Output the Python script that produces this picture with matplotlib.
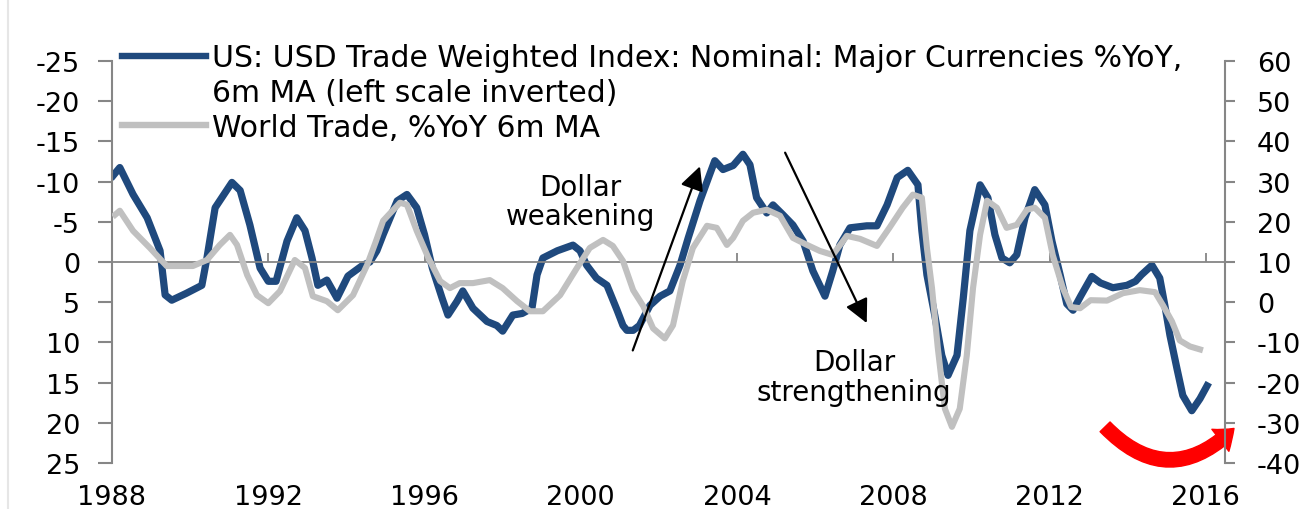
import matplotlib
matplotlib.use("Agg")
import matplotlib.pyplot as plt
from matplotlib.lines import Line2D
from matplotlib.patches import FancyArrowPatch

# USD trade weighted index, %YoY 6m MA (left axis, inverted)
usd_years = [1988.03, 1988.2, 1988.54, 1988.9, 1989.23, 1989.36, 1989.53, 1989.9,
             1990.3, 1990.43, 1990.64, 1991.07, 1991.28, 1991.53, 1991.79, 1992.0,
             1992.2, 1992.48, 1992.73, 1992.94, 1993.12, 1993.27, 1993.5, 1993.76,
             1994.04, 1994.42, 1994.6, 1994.78, 1994.94, 1995.3, 1995.55, 1995.8,
             1996.0, 1996.2, 1996.45, 1996.6, 1996.83, 1996.98, 1997.24, 1997.6,
             1997.85, 1998.0, 1998.26, 1998.5, 1998.75, 1998.88, 1999.03, 1999.4,
             1999.8, 1999.98, 2000.15, 2000.4, 2000.67, 2000.93, 2001.08, 2001.18,
             2001.34, 2001.5, 2001.77, 2002.03, 2002.28, 2002.54, 2002.75, 2003.05,
             2003.3, 2003.43, 2003.64, 2003.9, 2004.15, 2004.33, 2004.5, 2004.76,
             2004.92, 2005.17, 2005.43, 2005.69, 2005.94, 2006.25, 2006.45, 2006.63,
             2006.89, 2007.32, 2007.58, 2007.84, 2008.1, 2008.37, 2008.63, 2008.73,
             2008.86, 2009.06, 2009.24, 2009.4, 2009.63, 2009.79, 2009.96, 2010.22,
             2010.42, 2010.6, 2010.78, 2010.98, 2011.16, 2011.37, 2011.62, 2011.88,
             2012.06, 2012.27, 2012.44, 2012.6, 2012.8, 2013.08, 2013.3, 2013.62,
             2013.98, 2014.2, 2014.35, 2014.62, 2014.82, 2014.95, 2015.08, 2015.26,
             2015.41, 2015.64, 2015.85, 2016.03]
usd_vals = [-10.75, -11.75, -8.4, -5.5, -1.4, 4.1, 4.75, 3.9,
            2.9, -0.5, -6.75, -9.9, -8.9, -4.6, 0.75, 2.4,
            2.4, -2.6, -5.5, -3.9, -0.5, 2.9, 2.25, 4.5,
            1.75, 0.4, 0.0, -1.4, -3.4, -7.6, -8.4, -6.75,
            -3.4, 0.75, 4.5, 6.6, 4.9, 3.6, 5.75, 7.4,
            7.9, 8.6, 6.6, 6.4, 5.75, 1.6, -0.5, -1.4,
            -2.1, -1.4, 0.4, 2.0, 2.9, 6.0, 7.9, 8.5,
            8.5, 7.9, 5.4, 4.25, 3.6, 0.4, -3.0, -7.6,
            -10.9, -12.6, -11.5, -12.0, -13.4, -12.1, -8.0, -6.1,
            -7.1, -5.9, -4.6, -2.6, 1.1, 4.25, 1.1, -2.1,
            -4.25, -4.5, -4.5, -7.1, -10.5, -11.4, -9.6, -3.9,
            1.6, 6.6, 11.6, 14.1, 11.6, 4.5, -3.9, -9.6,
            -8.0, -3.4, -0.5, 0.1, -0.9, -5.5, -9.0, -7.1,
            -2.6, 1.6, 5.2, 6.0, 4.2, 1.8, 2.6, 3.2,
            2.9, 2.4, 1.6, 0.4, 2.0, 5.4, 9.1, 13.25,
            16.6, 18.5, 17.0, 15.4]

# World trade, %YoY 6m MA (right axis)
trade_years = [1988.08, 1988.2, 1988.54, 1988.97, 1989.4, 1989.74, 1990.07, 1990.43,
               1990.76, 1991.02, 1991.2, 1991.46, 1991.71, 1992.0, 1992.3, 1992.68,
               1992.94, 1993.14, 1993.5, 1993.78, 1994.17, 1994.53, 1994.75, 1994.94,
               1995.37, 1995.55, 1995.8, 1996.1, 1996.4, 1996.65, 1996.9, 1997.24,
               1997.67, 1998.0, 1998.37, 1998.7, 1999.03, 1999.47, 1999.9, 2000.23,
               2000.57, 2000.82, 2001.08, 2001.34, 2001.6, 2001.85, 2002.15, 2002.36,
               2002.61, 2002.87, 2003.23, 2003.48, 2003.74, 2003.9, 2004.15, 2004.41,
               2004.76, 2005.1, 2005.43, 2005.79, 2006.12, 2006.45, 2006.81, 2007.15,
               2007.58, 2007.9, 2008.24, 2008.5, 2008.73, 2008.86, 2008.99, 2009.14,
               2009.32, 2009.5, 2009.7, 2009.88, 2010.04, 2010.22, 2010.4, 2010.65,
               2010.9, 2011.16, 2011.42, 2011.62, 2011.88, 2012.08, 2012.34, 2012.55,
               2012.78, 2013.05, 2013.47, 2013.88, 2014.31, 2014.7, 2014.9, 2015.13,
               2015.33, 2015.59, 2015.85]
trade_vals = [21.75, 22.75, 17.75, 13.5, 9.0, 9.0, 9.0, 10.5,
              14.25, 16.75, 14.25, 6.75, 1.75, -0.25, 2.75, 10.5,
              8.5, 1.5, 0.25, -2.0, 1.75, 9.25, 15.0, 20.25,
              24.75, 24.25, 17.75, 11.0, 5.25, 3.5, 4.75, 4.75,
              5.5, 3.5, 0.25, -2.25, -2.25, 1.75, 8.5, 13.5,
              15.5, 14.0, 10.25, 3.0, -1.0, -6.5, -9.0, -5.75,
              5.25, 13.5, 19.0, 18.5, 14.25, 16.0, 20.25, 22.25,
              23.0, 21.5, 16.0, 14.25, 12.75, 11.75, 16.5, 15.75,
              14.0, 18.5, 23.5, 26.75, 26.0, 13.5, 3.5, -11.5,
              -26.5, -31.0, -26.5, -13.25, 3.5, 16.75, 25.25, 23.5,
              18.5, 19.25, 23.0, 23.5, 21.0, 11.75, 3.5, -1.2,
              -1.5, 0.5, 0.4, 2.25, 3.0, 2.5, -0.75, -4.75,
              -9.5, -11.0, -11.75]

year_ticks = [1988, 1992, 1996, 2000, 2004, 2008, 2012, 2016]
left_ticks = [-25, -20, -15, -10, -5, 0, 5, 10, 15, 20, 25]
right_ticks = [-40, -30, -20, -10, 0, 10, 20, 30, 40, 50, 60]

usd_label = "US: USD Trade Weighted Index: Nominal: Major Currencies %YoY,"
usd_label2 = "6m MA (left scale inverted)"
trade_label = "World Trade, %YoY 6m MA"

BLUE = "#1f497d"
GREY = "#c0c0c0"
AXIS = "#868686"

W, H = 1314, 510
fig = plt.figure(figsize=(W / 100, H / 100), dpi=100)
ax = fig.add_axes([112 / W, 1 - 464 / H, (1225 - 112) / W, (464 - 62) / H])
ax2 = ax.twinx()

ax.plot(usd_years, usd_vals, color=BLUE, lw=5.2, solid_joinstyle="round")
ax2.plot(trade_years, trade_vals, color=GREY, lw=4.4, solid_joinstyle="round")

ax.set_xlim(1988, 2016.49)
ax.set_ylim(25, -25)
ax2.set_ylim(-40, 60)
ax.set_xticks(year_ticks)
ax.set_xticklabels([str(y) for y in year_ticks])
ax.set_yticks(left_ticks)
ax.set_yticklabels([str(v) for v in left_ticks])
ax2.set_yticks(right_ticks)
ax2.set_yticklabels([str(v) for v in right_ticks])

for s in ("top", "right"):
    ax.spines[s].set_visible(False)
for s in ("top", "left", "bottom"):
    ax2.spines[s].set_visible(False)
ax.spines["left"].set_color(AXIS)
ax.spines["left"].set_linewidth(1.5)
ax2.spines["right"].set_color(AXIS)
ax2.spines["right"].set_linewidth(1.5)
ax.spines["bottom"].set_position(("data", 0))
ax.spines["bottom"].set_color(AXIS)
ax.spines["bottom"].set_linewidth(1.3)

ax.tick_params(axis="y", direction="out", length=10, width=1.5, color=AXIS,
               pad=13, labelsize=19.5)
ax2.tick_params(axis="y", direction="out", length=7, width=1.5, color=AXIS,
                pad=16, labelsize=19.5)
ax.tick_params(axis="x", direction="in", length=6.5, width=1.3, color=AXIS,
               pad=160, labelsize=19.5)

# legend: blank handle so the second label line sits under the first
blank = Line2D([], [], color="none")
h_usd = Line2D([], [], color=BLUE, lw=4.6)
h_trade = Line2D([], [], color=GREY, lw=4.6)
ax2.legend([h_usd, blank, h_trade], [usd_label, usd_label2, trade_label],
           loc="upper left", bbox_to_anchor=(122 / W, 1 - 44 / H),
           bbox_transform=fig.transFigure, frameon=False, fontsize=21.5,
           handlelength=2.8, handletextpad=0.2, labelspacing=0.2,
           borderpad=0, borderaxespad=0)

# annotations (positions in left-axis data coordinates)
ax2.text(2000.0, -7.5, "Dollar\nweakening", transform=ax.transData,
         ha="center", va="center", fontsize=20, linespacing=1.05)
ax2.text(2007.0, 14.3, "Dollar\nstrengthening", transform=ax.transData,
         ha="center", va="center", fontsize=20, linespacing=1.05)
ax2.annotate("", xy=(2003.05, -11.9), xytext=(2001.33, 11.0),
             xycoords=ax.transData, textcoords=ax.transData,
             arrowprops=dict(arrowstyle="-|>,head_length=0.9,head_width=0.45",
                             color="black", lw=1.6, mutation_scale=16,
                             shrinkA=0, shrinkB=0))
ax2.annotate("", xy=(2007.32, 7.6), xytext=(2005.23, -13.6),
             xycoords=ax.transData, textcoords=ax.transData,
             arrowprops=dict(arrowstyle="-|>,head_length=0.9,head_width=0.45",
                             color="black", lw=1.6, mutation_scale=16,
                             shrinkA=0, shrinkB=0))

arc = FancyArrowPatch((2013.42, 20.5), (2016.72, 20.7), transform=ax.transData,
                      connectionstyle="arc3,rad=0.5",
                      arrowstyle="simple,tail_width=0.5,head_width=1.0,head_length=0.65",
                      mutation_scale=20, color="#ff0000", clip_on=False,
                      shrinkA=0, shrinkB=0)
ax2.add_patch(arc)

# faint page border on the left
fig.add_artist(Line2D([8 / W, 8 / W], [0, 1], color="#e6e6e6", lw=1.5,
                      transform=fig.transFigure))

fig.savefig("out.png", dpi=100)
